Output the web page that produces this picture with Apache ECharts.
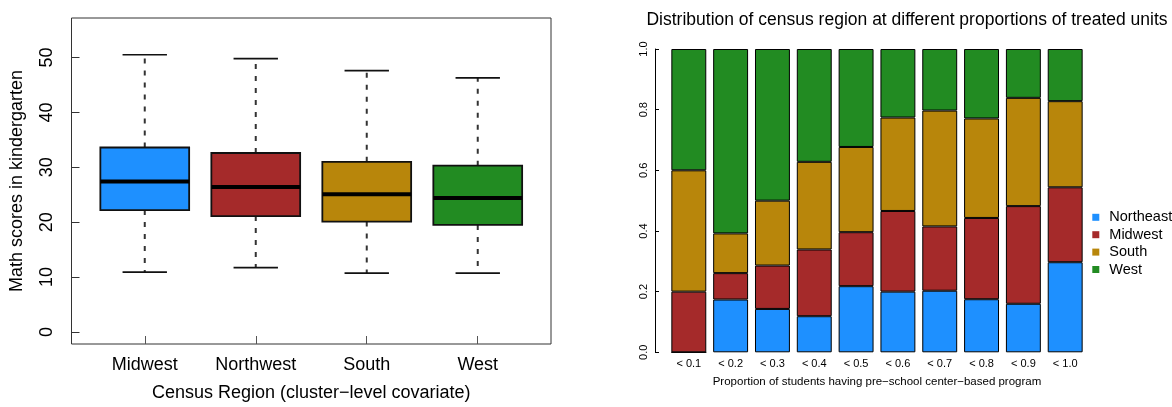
<!DOCTYPE html>
<html><head><meta charset="utf-8">
<script src="https://cdn.jsdelivr.net/npm/echarts@6/dist/echarts.min.js"></script>
<style>html,body{margin:0;padding:0;background:#fff}#c{width:1172px;height:407px}</style>
</head><body><div id="c"></div>
<script>
// ---- Left panel: box plot data ----
const regions = ['Midwest', 'Northwest', 'South', 'West'];
const whiskerLow = [10.9, 11.7, 10.7, 10.7];
const quartile1 = [22.2, 21.1, 20.1, 19.5];
const medians = [27.4, 26.4, 25.1, 24.4];
const quartile3 = [33.6, 32.6, 31.0, 30.3];
const whiskerHigh = [50.5, 49.8, 47.6, 46.3];
const leftTicks = [0, 10, 20, 30, 40, 50];

// ---- Right panel: stacked proportions ----
const proportionLabels = ['< 0.1', '< 0.2', '< 0.3', '< 0.4', '< 0.5', '< 0.6', '< 0.7', '< 0.8', '< 0.9', '< 1.0'];
const northeast = [0.000, 0.174, 0.143, 0.119, 0.218, 0.200, 0.203, 0.175, 0.160, 0.297];
const midwest   = [0.200, 0.087, 0.143, 0.220, 0.178, 0.266, 0.212, 0.268, 0.322, 0.247];
const south     = [0.400, 0.131, 0.214, 0.289, 0.281, 0.308, 0.382, 0.328, 0.357, 0.284];
const west      = [0.400, 0.608, 0.500, 0.372, 0.323, 0.226, 0.203, 0.229, 0.161, 0.172];
const rightTicks = [0, 0.2, 0.4, 0.6, 0.8, 1.0];

const boxColors = ['#1E90FF', '#A52A2A', '#B8860B', '#228B22'];
const FONT = "'Liberation Sans', Arial, Helvetica, sans-serif";

const boxData = regions.map((r, i) => [i + 1, whiskerLow[i], quartile1[i], medians[i], quartile3[i], whiskerHigh[i]]);

function renderBox(params, api) {
  const x = api.value(0);
  const pLo = api.coord([x, api.value(1)]);
  const pQ1 = api.coord([x, api.value(2)]);
  const pMd = api.coord([x, api.value(3)]);
  const pQ3 = api.coord([x, api.value(4)]);
  const pHi = api.coord([x, api.value(5)]);
  const half = api.size([0.4, 0])[0];
  const capHalf = api.size([0.2, 0])[0];
  const cx = pMd[0];
  const dash = { stroke: '#333', lineWidth: 2, lineDash: [5, 7] };
  const solid = { stroke: '#111', lineWidth: 1.7 };
  return {
    type: 'group',
    children: [
      { type: 'line', shape: { x1: cx, y1: pQ3[1], x2: cx, y2: pHi[1] }, style: dash },
      { type: 'line', shape: { x1: cx, y1: pQ1[1], x2: cx, y2: pLo[1] }, style: dash },
      { type: 'line', shape: { x1: cx - capHalf, y1: pHi[1], x2: cx + capHalf, y2: pHi[1] }, style: solid },
      { type: 'line', shape: { x1: cx - capHalf, y1: pLo[1], x2: cx + capHalf, y2: pLo[1] }, style: solid },
      { type: 'rect', shape: { x: cx - half, y: pQ3[1], width: 2 * half, height: pQ1[1] - pQ3[1] },
        style: { fill: boxColors[params.dataIndex], stroke: '#111', lineWidth: 1.8 } },
      { type: 'line', shape: { x1: cx - half, y1: pMd[1], x2: cx + half, y2: pMd[1] },
        style: { stroke: '#000', lineWidth: 4 } }
    ]
  };
}

const chart = echarts.init(document.getElementById('c'), null, { renderer: 'canvas' });
const txt = { color: '#000', fontFamily: FONT };

function barSeries(name, data, color) {
  return {
    name: name, type: 'bar', stack: 'region', xAxisIndex: 1, yAxisIndex: 1,
    data: data, barCategoryGap: '16.5%',
    itemStyle: { color: color, borderColor: '#000', borderWidth: 1 },
    emphasis: { disabled: true }
  };
}

chart.setOption({
  animation: false,
  textStyle: { fontFamily: FONT },
  title: {
    text: 'Distribution of census region at different proportions of treated units',
    left: 907, top: 11, textAlign: 'center', padding: 0,
    textStyle: Object.assign({ fontSize: 17.5, fontWeight: 'normal' }, txt)
  },
  legend: {
    data: ['Northeast', 'Midwest', 'South', 'West'],
    orient: 'vertical', left: 1092.3, top: 208.6, padding: 0,
    icon: 'rect', itemWidth: 7, itemHeight: 7, itemGap: 0,
    itemStyle: { borderWidth: 0 },
    textStyle: Object.assign({ fontSize: 14.5, lineHeight: 17.4, padding: [0, 0, 0, 5] }, txt),
    selectedMode: false
  },
  grid: [
    { left: 71.5, top: 18, width: 479.5, height: 329, show: true, borderColor: '#333', borderWidth: 1, backgroundColor: 'transparent' },
    { left: 667.9, top: 49, width: 418.2, height: 303.3 }
  ],
  xAxis: [
    {
      type: 'value', gridIndex: 0, min: 0.34, max: 4.66,
      axisLine: { show: false, onZero: false }, splitLine: { show: false },
      axisTick: { show: true, inside: true, length: 8, customValues: [1, 2, 3, 4], lineStyle: { color: '#555', width: 1 } },
      axisLabel: Object.assign({ customValues: [1, 2, 3, 4], formatter: v => regions[Math.round(v) - 1], fontSize: 18, margin: 12 }, txt),
      name: 'Census Region (cluster\u2212level covariate)', nameLocation: 'middle', nameGap: 40,
      nameTextStyle: Object.assign({ fontSize: 18 }, txt)
    },
    {
      type: 'category', gridIndex: 1, data: proportionLabels,
      axisLine: { show: false, onZero: false }, axisTick: { show: false }, splitLine: { show: false },
      axisLabel: Object.assign({ fontSize: 11, margin: 6, interval: 0 }, txt),
      name: 'Proportion of students having pre\u2212school center\u2212based program', nameLocation: 'middle', nameGap: 24,
      nameTextStyle: Object.assign({ fontSize: 11.5 }, txt)
    }
  ],
  yAxis: [
    {
      type: 'value', gridIndex: 0, min: -2.2, max: 57.2,
      axisLine: { show: false, onZero: false }, splitLine: { show: false },
      axisTick: { show: true, inside: true, length: 8, customValues: leftTicks, lineStyle: { color: '#333', width: 1 } },
      axisLabel: Object.assign({ customValues: leftTicks, rotate: 90, fontSize: 18, margin: 15 }, txt),
      name: 'Math scores in kindergarten', nameLocation: 'middle', nameGap: 45,
      nameTextStyle: Object.assign({ fontSize: 18 }, txt)
    },
    {
      type: 'value', gridIndex: 1, min: 0, max: 1, interval: 0.2, offset: 12.9,
      axisLine: { show: true, onZero: false, lineStyle: { color: '#000', width: 1 } },
      splitLine: { show: false },
      axisTick: { show: true, inside: true, length: 4, lineStyle: { color: '#000', width: 1 } },
      axisLabel: Object.assign({ rotate: 90, fontSize: 11, margin: 6, formatter: v => v.toFixed(1) }, txt)
    }
  ],
  series: [
    {
      name: 'Math scores', type: 'custom', xAxisIndex: 0, yAxisIndex: 0,
      renderItem: renderBox, data: boxData, encode: { x: 0, y: [1, 2, 3, 4, 5] }
    },
    barSeries('Northeast', northeast, '#1E90FF'),
    barSeries('Midwest', midwest, '#A52A2A'),
    barSeries('South', south, '#B8860B'),
    barSeries('West', west, '#228B22')
  ]
});
</script>
</body></html>
